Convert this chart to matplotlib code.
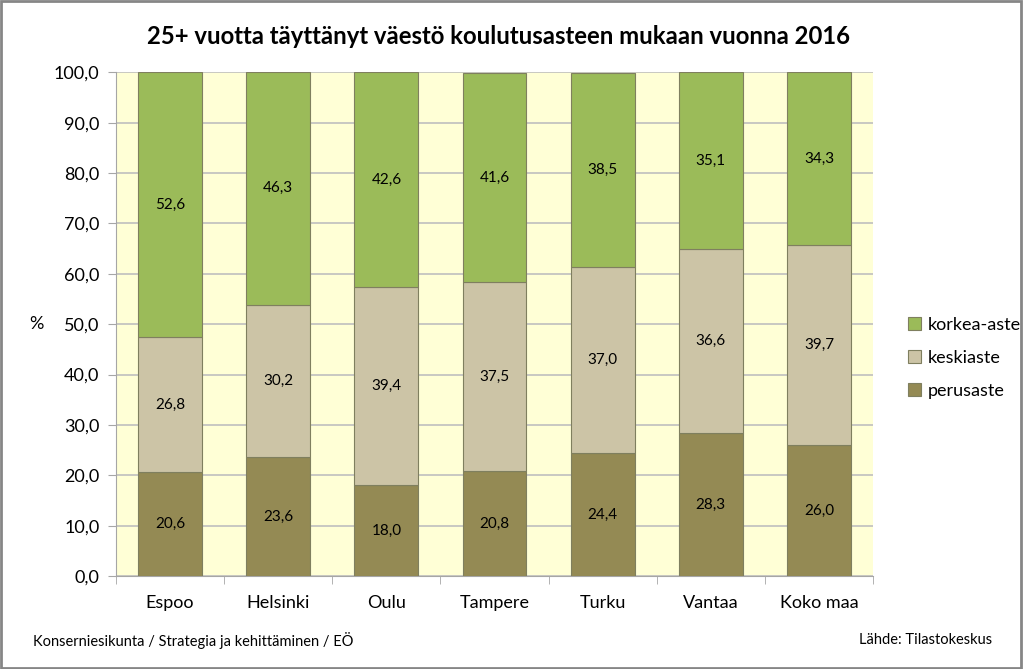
import numpy as np
import matplotlib.pyplot as plt
from matplotlib.patches import Rectangle

plt.rcParams['font.family'] = ['Lato', 'DejaVu Sans']

cities = ['Espoo', 'Helsinki', 'Oulu', 'Tampere', 'Turku', 'Vantaa', 'Koko maa']
perusaste = [20.6, 23.6, 18.0, 20.8, 24.4, 28.3, 26.0]
keskiaste = [26.8, 30.2, 39.4, 37.5, 37.0, 36.6, 39.7]
korkea_aste = [52.6, 46.3, 42.6, 41.6, 38.5, 35.1, 34.3]

colors = ['#948A54', '#CCC4A6', '#9BBB59']
names = ['perusaste', 'keskiaste', 'korkea-aste']

fig = plt.figure(figsize=(10.23, 6.69), dpi=100)
ax = fig.add_axes([0.1134, 0.139, 0.7400, 0.753])
ax.set_facecolor('#FFFFD6')

x = np.arange(len(cities))
bottom = np.zeros(len(cities))
bars = []
for vals, col, nm in zip([perusaste, keskiaste, korkea_aste], colors, names):
    b = ax.bar(x, vals, width=0.59, bottom=bottom, color=col, edgecolor='#7F7F5F',
               linewidth=0.8, label=nm, zorder=3)
    bars.append(b)
    for xi, v, b0 in zip(x, vals, bottom):
        ax.text(xi, b0 + v / 2, f'{v:.1f}'.replace('.', ','), ha='center', va='center',
                fontsize=11, color='black', zorder=4)
    bottom = bottom + np.array(vals)

ax.set_xlim(-0.5, len(cities) - 0.5)
ax.set_ylim(0, 100)
ax.set_yticks(np.arange(0, 101, 10))
ax.set_yticklabels([f'{v:.1f}'.replace('.', ',') for v in np.arange(0, 101, 10)], fontsize=13)
ax.yaxis.grid(True, color='#BFBFBF', linewidth=1.2, zorder=1)
ax.set_axisbelow(True)
ax.set_xticks(x)
ax.set_xticklabels(cities, fontsize=13)
ax.set_xticks(np.arange(-0.5, len(cities)), minor=True)
ax.tick_params(axis='x', which='major', length=0, pad=14)
ax.tick_params(axis='x', which='minor', length=6, color='#A6A6A6', direction='out')
ax.tick_params(axis='y', length=6, color='#A6A6A6', pad=6)
for sp in ['top', 'right']:
    ax.spines[sp].set_visible(False)
ax.spines['left'].set_color('#A6A6A6')
ax.spines['bottom'].set_color('#A6A6A6')

ax.set_ylabel('%', rotation=0, fontsize=13, labelpad=40, va='center')
ax.yaxis.set_label_coords(-0.105, 0.5)

fig.suptitle('25+ vuotta täyttänyt väestö koulutusasteen mukaan vuonna 2016',
             fontsize=17.2, fontweight='bold', x=0.487, y=0.963)

handles = [bars[2], bars[1], bars[0]]
leg = fig.legend(handles, ['korkea-aste', 'keskiaste', 'perusaste'], loc='center left',
                 bbox_to_anchor=(0.872, 0.465), frameon=False, fontsize=13,
                 handlelength=0.7, handleheight=0.7, labelspacing=0.95, handletextpad=0.4)

fig.text(0.032, 0.043, 'Konserniesikunta / Strategia ja kehittäminen / EÖ', fontsize=10.5,
         ha='left', va='center')
fig.text(0.970, 0.043, 'Lähde: Tilastokeskus', fontsize=10.5, ha='right', va='center')

fig.patches.append(Rectangle((0.001, 0.002), 0.997, 0.996, transform=fig.transFigure,
                             fill=False, edgecolor='#868686', linewidth=2))

fig.savefig('out.png', dpi=100)
